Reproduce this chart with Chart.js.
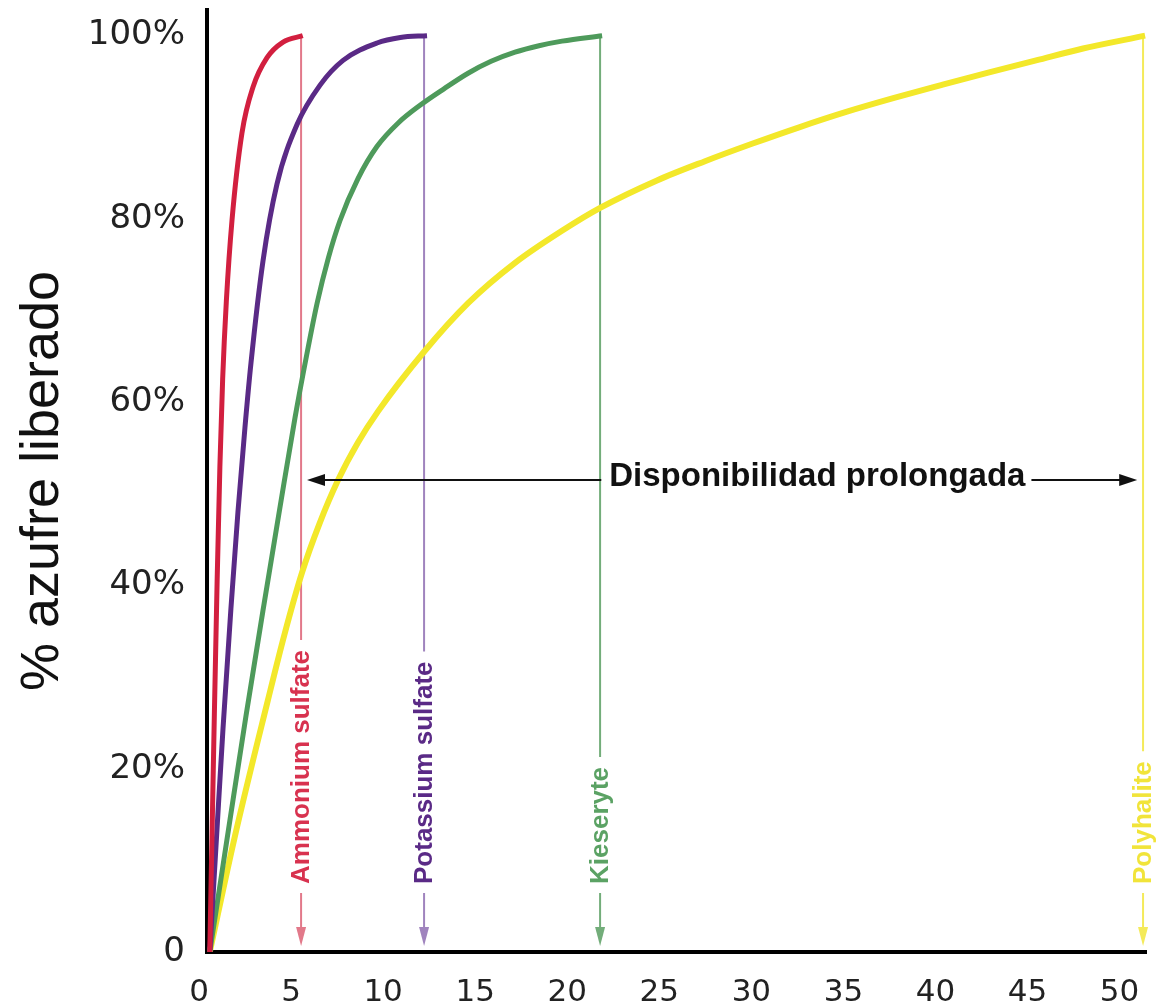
<!DOCTYPE html>
<html>
<head>
<meta charset="utf-8">
<title>% azufre liberado</title>
<script src="https://cdn.jsdelivr.net/npm/chart.js@4.4.1/dist/chart.umd.min.js"></script>
<style>
  html, body { margin: 0; padding: 0; background: #fff; }
  #wrap { width: 1162px; height: 1008px; position: relative; }
</style>
</head>
<body>
<div id="wrap"><canvas id="myChart"></canvas></div>
<script>
// release curves (x = time, y = % sulphur released)
var ammoniumX = [0.15, 0.27, 0.40, 0.55, 0.70, 0.85, 1.05, 1.36, 1.90, 2.50, 3.26, 4.13, 5.20];
var ammoniumY = [0, 12.5, 26.0, 40.5, 53.0, 62.5, 71.0, 79.9, 89.4, 94.4, 97.6, 99.3, 100];

var potassiumX = [0.15, 0.49, 0.87, 1.30, 1.68, 2.06, 2.39, 3.04, 3.80, 4.89, 6.14, 7.39, 9.23, 10.50, 11.95];
var potassiumY = [0, 11.6, 24.4, 37.5, 48.0, 57.2, 64.3, 75.4, 83.8, 90.3, 94.6, 97.3, 99.2, 99.8, 100];

var kieseriteX = [0.15, 1.20, 2.12, 3.10, 3.97, 4.78, 5.40, 5.98, 6.60, 7.22, 8.20, 9.23, 10.40, 11.57, 12.87, 14.18, 15.43, 16.73, 18.03, 19.28, 21.46];
var kieseriteY = [0, 13.8, 25.8, 38.0, 48.6, 58.3, 65.0, 70.8, 75.8, 79.8, 84.4, 87.9, 90.5, 92.4, 94.2, 95.9, 97.2, 98.2, 98.9, 99.4, 100];

var polyhaliteX = [0.15, 1.50, 3.31, 4.20, 5.16, 6.10, 7.12, 8.20, 9.29, 11.79, 14.18, 16.73, 19.28, 21.35, 24.44, 27.05, 29.60, 32.16, 34.76, 37.32, 39.87, 42.48, 45.03, 47.58, 50.95];
var polyhaliteY = [0, 12.5, 27.5, 34.6, 41.4, 46.7, 51.5, 55.6, 59.0, 65.5, 70.8, 75.2, 78.7, 81.2, 84.2, 86.3, 88.2, 90.0, 91.7, 93.2, 94.6, 96.0, 97.3, 98.6, 100];

// vertical markers where each product reaches 100%
var markerNames = ["Ammonium sulfate", "Potassium sulfate", "Kieseryte", "Polyhalite"];
var markerX = [5.11, 11.79, 21.35, 50.84];

// "Disponibilidad prolongada" double arrow
var spanLabel = "Disponibilidad prolongada";
var spanArrowX = [5.43, 50.52];
var spanArrowY = 51.5;
var spanLabelX = 33.15;

var xTickLabels = ["0", "5", "10", "15", "20", "25", "30", "35", "40", "45", "50"];
var yTickLabels = ["0", "20%", "40%", "60%", "80%", "100%"];

var curveColors = ["#d21f3f", "#5a2a86", "#4e9a5b", "#f3e82a"];
var markerLineColors = ["#e2798a", "#a084be", "#73ad7a", "#f4ea5a"];
var markerTextColors = ["#d8324f", "#5a2a86", "#5ba264", "#f1e43a"];

function toPoints(xs, ys) {
  return xs.map(function (x, i) { return { x: x, y: ys[i] }; });
}

var markerPlugin = {
  id: "markers",
  beforeDatasetsDraw: function (chart) {
    var c = chart.ctx, sx = chart.scales.x, sy = chart.scales.y;
    var y0 = sy.getPixelForValue(0), yTop = sy.getPixelForValue(100);
    var textStart = y0 - 68;
    c.save();
    c.font = "bold 26px 'Liberation Sans', Arial, sans-serif";
    for (var i = 0; i < markerNames.length; i++) {
      var px = sx.getPixelForValue(markerX[i]);
      var w = c.measureText(markerNames[i]).width;
      c.strokeStyle = markerLineColors[i];
      c.lineWidth = 2;
      c.beginPath();
      c.moveTo(px, yTop);
      c.lineTo(px, textStart - w - 10);
      c.moveTo(px, textStart + 9);
      c.lineTo(px, y0 - 22);
      c.stroke();
      // arrow head
      c.fillStyle = markerLineColors[i];
      c.beginPath();
      c.moveTo(px, y0 - 6);
      c.lineTo(px - 5, y0 - 25);
      c.lineTo(px + 5, y0 - 25);
      c.closePath();
      c.fill();
      // rotated label
      c.save();
      c.translate(px, textStart);
      c.rotate(-Math.PI / 2);
      c.fillStyle = markerTextColors[i];
      c.textAlign = "left";
      c.textBaseline = "middle";
      c.fillText(markerNames[i], 0, 1);
      c.restore();
    }
    c.restore();
  },
  afterDatasetsDraw: function (chart) {
    var c = chart.ctx, sx = chart.scales.x, sy = chart.scales.y;
    var left = sx.getPixelForValue(spanArrowX[0]);
    var right = sx.getPixelForValue(spanArrowX[1]);
    var py = sy.getPixelForValue(spanArrowY);
    var cx = sx.getPixelForValue(spanLabelX);
    c.save();
    c.font = "bold 33px 'Liberation Sans', Arial, sans-serif";
    var tw = c.measureText(spanLabel).width;
    c.strokeStyle = "#111";
    c.fillStyle = "#111";
    c.lineWidth = 2;
    c.beginPath();
    c.moveTo(left + 12, py);
    c.lineTo(cx - tw / 2 - 8, py);
    c.moveTo(cx + tw / 2 + 6, py);
    c.lineTo(right - 12, py);
    c.stroke();
    c.beginPath();
    c.moveTo(left, py);
    c.lineTo(left + 18, py - 6);
    c.lineTo(left + 18, py + 6);
    c.closePath();
    c.fill();
    c.beginPath();
    c.moveTo(right, py);
    c.lineTo(right - 18, py - 6);
    c.lineTo(right - 18, py + 6);
    c.closePath();
    c.fill();
    c.textAlign = "center";
    c.textBaseline = "middle";
    c.fillText(spanLabel, cx, py - 3);
    c.restore();
  }
};

var ctx = document.getElementById("myChart").getContext("2d");

var myChart = new Chart(ctx, {
  type: "line",
  data: {
    datasets: [
      { label: markerNames[0], data: toPoints(ammoniumX, ammoniumY), borderColor: curveColors[0], borderWidth: 5 },
      { label: markerNames[1], data: toPoints(potassiumX, potassiumY), borderColor: curveColors[1], borderWidth: 5 },
      { label: markerNames[2], data: toPoints(kieseriteX, kieseriteY), borderColor: curveColors[2], borderWidth: 5 },
      { label: markerNames[3], data: toPoints(polyhaliteX, polyhaliteY), borderColor: curveColors[3], borderWidth: 6 },
    ],
  },
  options: {
    responsive: true,
    maintainAspectRatio: false,
    animation: false,
    layout: { padding: { top: 10, right: 16, bottom: 0, left: 0 } },
    elements: {
      point: { radius: 0, hoverRadius: 0 },
      line: { fill: false, cubicInterpolationMode: "monotone" },
    },
    plugins: {
      legend: { display: false },
      tooltip: { enabled: false },
    },
    scales: {
      x: {
        type: "linear",
        min: 0,
        max: 51,
        afterFit: function (scale) {
          scale.height = 56;
          scale.paddingLeft = 0;
          scale.paddingRight = 0;
        },
        grid: { display: false, drawTicks: false },
        border: { display: true, color: "#000", width: 4 },
        ticks: {
          stepSize: 5,
          includeBounds: false,
          autoSkip: false,
          maxRotation: 0,
          padding: 25,
          labelOffset: -8,
          color: "#222",
          font: { family: "'DejaVu Sans', Verdana, sans-serif", size: 31, lineHeight: 1 },
          callback: function (v, i) { return xTickLabels[i]; },
        },
      },
      y: {
        type: "linear",
        min: 0,
        max: 102.8,
        afterFit: function (scale) {
          scale.width = 207;
          scale.paddingTop = 0;
          scale.paddingBottom = 0;
        },
        grid: { display: false, drawTicks: false },
        border: { display: true, color: "#000", width: 4 },
        title: {
          display: true,
          text: "% azufre liberado",
          color: "#111",
          font: { family: "'Liberation Sans', Arial, sans-serif", size: 54, lineHeight: 1.2 },
          padding: { top: 11, bottom: 0 },
        },
        ticks: {
          stepSize: 20,
          includeBounds: false,
          padding: 22,
          color: "#222",
          font: { family: "'DejaVu Sans', Verdana, sans-serif", size: 34 },
          callback: function (v, i) { return yTickLabels[i]; },
        },
      },
    },
  },
  plugins: [markerPlugin],
});
</script>
</body>
</html>
